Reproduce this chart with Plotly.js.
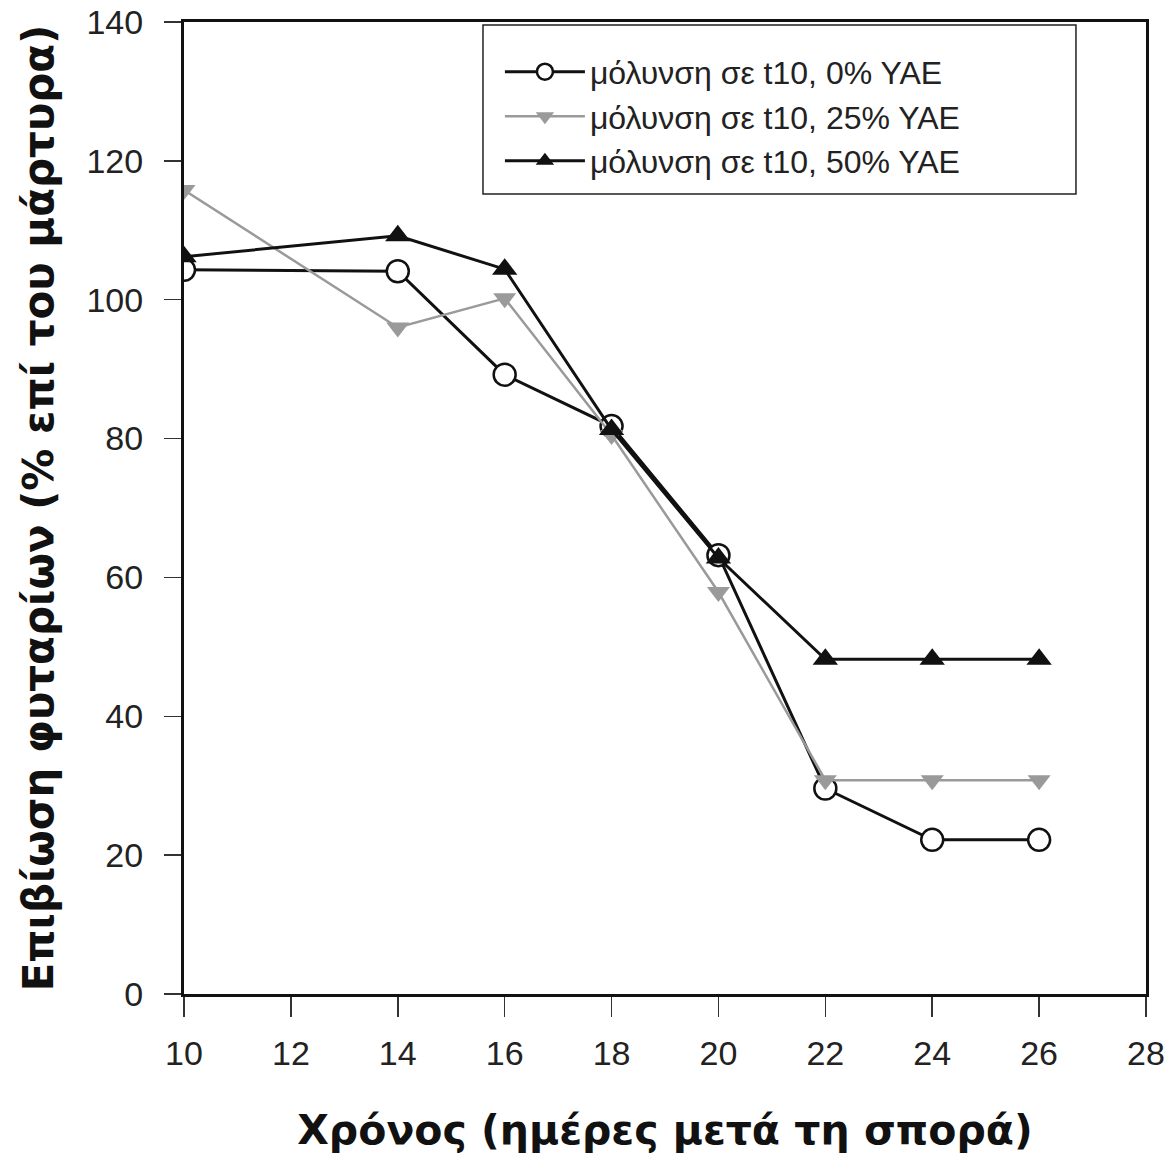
<!DOCTYPE html>
<html>
<head>
<meta charset="utf-8">
<script src="https://cdn.plot.ly/plotly-3.0.1.min.js"></script>
<style>html,body{margin:0;padding:0;background:#fff;}#chart{width:1174px;height:1155px;}</style>
</head>
<body>
<div id="chart"></div>
<script>
const days = [10, 14, 16, 18, 20, 22, 24, 26];
const yae0 = [104.3, 104.1, 89.2, 81.8, 63.2, 29.6, 22.2, 22.2];
const yae25 = [115.8, 96.0, 100.2, 80.5, 57.9, 30.8, 30.8, 30.8];
const yae50 = [106.2, 109.2, 104.4, 81.3, 62.8, 48.2, 48.2, 48.2];
const seriesNames = ['μόλυνση σε t10, 0% YAE', 'μόλυνση σε t10, 25% YAE', 'μόλυνση σε t10, 50% YAE'];
const xTicks = [10, 12, 14, 16, 18, 20, 22, 24, 26, 28];
const yTicks = [0, 20, 40, 60, 80, 100, 120, 140];

const traces = [
  {x: days, y: yae0, name: seriesNames[0], mode: 'lines+markers', legendgroup: 'a',
   line: {color: '#111', width: 3},
   marker: {symbol: 'circle', size: 22, color: '#fff', line: {color: '#111', width: 2.5}}},
  {x: days, y: yae25, name: seriesNames[1], mode: 'lines+markers', legendgroup: 'b',
   line: {color: '#9a9a9a', width: 2.5},
   marker: {symbol: 'triangle-down', size: 20, color: '#9a9a9a', line: {width: 0}}},
  {x: days, y: yae50, name: seriesNames[2], mode: 'lines+markers', legendgroup: 'c',
   line: {color: '#111', width: 3},
   marker: {symbol: 'triangle-up', size: 22, color: '#111', line: {width: 0}}}
];

const layout = {
  width: 1174, height: 1155,
  margin: {l: 184, r: 28, t: 22, b: 161},
  paper_bgcolor: '#fff', plot_bgcolor: '#fff',
  showlegend: true,
  font: {family: 'Liberation Sans, Arial, sans-serif', color: '#222'},
  xaxis: {
    range: [10, 28], tickvals: xTicks, ticktext: xTicks.map(String),
    showgrid: false, zeroline: false,
    showline: true, linecolor: '#111', linewidth: 3, mirror: true,
    ticks: 'outside', ticklen: 20, tickwidth: 1.5, tickcolor: '#333',
    ticklabelstandoff: 7,
    tickfont: {size: 34, family: 'Liberation Sans, Arial, sans-serif', color: '#222'},
    title: {text: 'Χρόνος (ημέρες μετά τη σπορά)', standoff: 45,
            font: {size: 41, family: 'DejaVu Sans, sans-serif', color: '#111', weight: 'bold'}}
  },
  yaxis: {
    range: [0, 140], tickvals: yTicks, ticktext: yTicks.map(String),
    showgrid: false, zeroline: false,
    showline: true, linecolor: '#111', linewidth: 3, mirror: true,
    ticks: 'outside', ticklen: 17, tickwidth: 1.5, tickcolor: '#333',
    ticklabelstandoff: 14,
    tickfont: {size: 34, family: 'Liberation Sans, Arial, sans-serif', color: '#222'},
    title: {text: 'Επιβίωση φυταρίων (% επί του μάρτυρα)', standoff: 20,
            font: {size: 42, family: 'DejaVu Sans, sans-serif', color: '#111', weight: 'bold'}}
  },
  shapes: [
    {type: 'rect', xref: 'paper', yref: 'paper', x0: 0.3108, x1: 0.9272, y0: 0.823, y1: 0.9969,
     line: {color: '#222', width: 1.5}, fillcolor: '#fff', layer: 'above'}
  ],
  legend: {
    x: 0.3284, y: 0.977, xanchor: 'left', yanchor: 'top',
    bgcolor: 'rgba(0,0,0,0)', borderwidth: 0,
    font: {size: 32, family: 'Liberation Sans, Arial, sans-serif', color: '#222'},
    itemwidth: 80, tracegroupgap: 0, traceorder: 'normal'
  }
};

Plotly.newPlot('chart', traces, layout, {displayModeBar: false, staticPlot: true});
</script>
</body>
</html>
